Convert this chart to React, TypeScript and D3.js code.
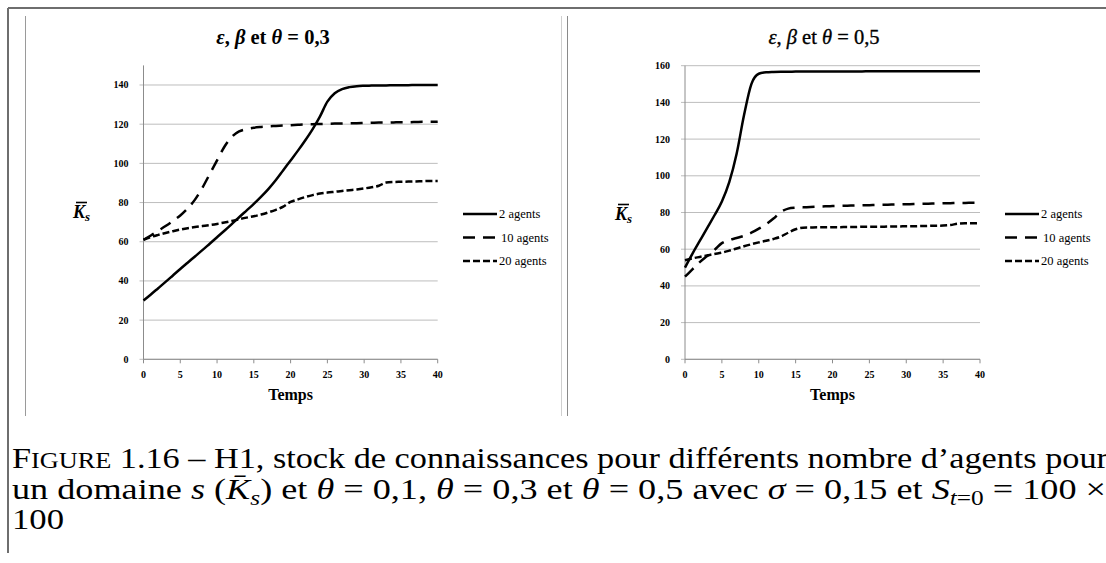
import React from 'react';
import * as d3 from 'd3';

// Time steps (x axis)
const TIME = [0, 1, 2, 3, 4, 5, 6, 7, 8, 9, 10, 11, 12, 13, 14, 15, 16, 17, 18, 19, 20,
  21, 22, 23, 24, 25, 26, 27, 28, 29, 30, 31, 32, 33, 34, 35, 36, 37, 38, 39, 40];
const X_TICKS = [0, 5, 10, 15, 20, 25, 30, 35, 40];

const SERIES_NAMES = ['2 agents', '10 agents', '20 agents'];

// θ = 0,3
const T03_AGENTS_2 = [30, 33.1, 36.3, 39.5, 42.8, 46.1, 49.3, 52.5, 55.7, 59, 62.3, 65.6, 69, 72.5, 75.9,
  79.3, 83, 87, 91.5, 96.5, 101.5, 106.5, 111.8, 117.5, 124, 131.5, 135.8, 137.9, 138.9, 139.4, 139.6,
  139.7, 139.8, 139.8, 139.9, 139.9, 139.9, 140, 140, 140, 140];
const T03_AGENTS_10 = [61, 63.2, 65.6, 68, 70.6, 73.4, 77, 81.5, 87.5, 94.5, 101.5, 108.5, 113.5, 116.3,
  117.5, 118.2, 118.6, 118.9, 119.1, 119.3, 119.5, 119.7, 119.9, 120, 120.1, 120.2, 120.3, 120.4, 120.5,
  120.5, 120.6, 120.7, 120.8, 120.8, 120.9, 121, 121, 121.1, 121.2, 121.2, 121.3];
const T03_AGENTS_20 = [61, 62.4, 63.5, 64.5, 65.4, 66.2, 66.9, 67.5, 68, 68.5, 69.1, 69.8, 70.6, 71.5,
  72.3, 73, 73.9, 75, 76.3, 77.9, 80.3, 81.6, 82.8, 83.8, 84.6, 85.1, 85.5, 85.9, 86.3, 86.7, 87.2, 87.8,
  88.6, 90.2, 90.5, 90.6, 90.7, 90.8, 90.9, 91, 91];
const T03_Y_TICKS = [0, 20, 40, 60, 80, 100, 120, 140];

// θ = 0,5
const T05_AGENTS_2 = [50, 57.5, 64.5, 71.5, 78.5, 86, 96.5, 112, 133, 150, 155.6, 156.4, 156.6, 156.7,
  156.7, 156.8, 156.8, 156.8, 156.8, 156.9, 156.9, 156.9, 156.9, 156.9, 156.9, 157, 157, 157, 157, 157,
  157, 157, 157, 157, 157, 157, 157, 157, 157, 157, 157];
const T05_AGENTS_10 = [45, 49, 53, 56.3, 59.6, 63.3, 65, 66.1, 67.3, 69, 71.2, 73.6, 76.7, 80.3, 82.1,
  82.6, 82.8, 83, 83.2, 83.4, 83.5, 83.6, 83.7, 83.8, 83.9, 84, 84.1, 84.2, 84.3, 84.4, 84.5, 84.6, 84.7,
  84.8, 84.9, 85, 85.1, 85.2, 85.2, 85.3, 85.3];
const T05_AGENTS_20 = [54, 55, 55.8, 56.6, 57.4, 58.1, 59.2, 60.4, 61.6, 62.7, 63.7, 64.6, 65.6, 66.9,
  69, 70.9, 71.7, 71.8, 71.9, 71.9, 72, 72, 72.1, 72.1, 72.2, 72.2, 72.3, 72.3, 72.4, 72.4, 72.5, 72.5,
  72.6, 72.7, 72.8, 72.9, 73.2, 73.9, 74.1, 74.1, 74.2];
const T05_Y_TICKS = [0, 20, 40, 60, 80, 100, 120, 140, 160];

const DASHES = [null, '12,8', '7,3'];
const SERIF = '"Liberation Serif", "Times New Roman", serif';

type PanelProps = {
  value: string;
  boldTitle: boolean;
  titleX: number;
  series: number[][];
  yMax: number;
  yTicks: number[];
  x0: number;
  x1: number;
  yTop: number;
  yBottom: number;
  labelX: number;
  labelY: number;
  legendX: number;
};

function Panel(p: PanelProps) {
  const x = d3.scaleLinear().domain([0, 40]).range([p.x0, p.x1]);
  const y = d3.scaleLinear().domain([0, p.yMax]).range([p.yBottom, p.yTop]);
  const line = d3
    .line<number>()
    .x((_, i) => x(TIME[i]))
    .y((d) => y(d))
    .curve(d3.curveMonotoneX);
  const legendYs = [214, 237.5, 261];
  return (
    <g>
      <text x={p.titleX} y={44} textAnchor="middle" fontFamily={SERIF} fontSize={20.5}
        fontWeight={p.boldTitle ? 'bold' : 'normal'} fill="#000"
        stroke={p.boldTitle ? 'none' : '#000'} strokeWidth={p.boldTitle ? 0 : 0.35}>
        <tspan fontStyle="italic">ε</tspan>, <tspan fontStyle="italic">β</tspan> et{' '}
        <tspan fontStyle="italic">θ</tspan> = {p.value}
      </text>
      {p.yTicks.map((t) => (
        <g key={t}>
          <line x1={p.x0 - 4} x2={p.x1} y1={y(t)} y2={y(t)} stroke="#bdbdbd" strokeWidth={1} />
          <text x={p.x0 - 15} y={y(t) + 3.5} textAnchor="end" fontFamily={SERIF} fontSize={10}
            fontWeight="bold" fill="#000">{t}</text>
        </g>
      ))}
      <line x1={p.x0} x2={p.x0} y1={p.yTop} y2={p.yBottom} stroke="#8c8c8c" strokeWidth={1} />
      <line x1={p.x0} x2={p.x1} y1={p.yBottom} y2={p.yBottom} stroke="#8c8c8c" strokeWidth={1} />
      {X_TICKS.map((t) => (
        <g key={t}>
          <line x1={x(t)} x2={x(t)} y1={p.yBottom} y2={p.yBottom + 4} stroke="#8c8c8c" strokeWidth={1} />
          <text x={x(t)} y={378} textAnchor="middle" fontFamily={SERIF} fontSize={10}
            fontWeight="bold" fill="#000">{t}</text>
        </g>
      ))}
      <text x={(p.x0 + p.x1) / 2} y={400} textAnchor="middle" fontFamily={SERIF} fontSize={16}
        fontWeight="bold" fill="#000">Temps</text>
      <g>
        <text x={p.labelX} y={p.labelY} fontFamily={SERIF} fontSize={18} fontWeight="bold"
          fontStyle="italic" fill="#000">K<tspan fontSize={13} dy={3}>s</tspan></text>
        <line x1={p.labelX + 3} x2={p.labelX + 14} y1={p.labelY - 15.5} y2={p.labelY - 15.5}
          stroke="#000" strokeWidth={1.6} />
      </g>
      {p.series.map((s, i) => (
        <path key={i} d={line(s) || ''} fill="none" stroke="#000" strokeWidth={2.5}
          strokeDasharray={DASHES[i] || undefined} />
      ))}
      {SERIES_NAMES.map((name, i) => (
        <g key={name}>
          <line x1={p.legendX} x2={p.legendX + 34} y1={legendYs[i]} y2={legendYs[i]} stroke="#000"
            strokeWidth={2.5} strokeDasharray={DASHES[i] || undefined} />
          <text x={p.legendX + 36 + (i === 1 ? 2 : 0)} y={legendYs[i] + 4} fontFamily={SERIF}
            fontSize={12.5} fill="#000">{name}</text>
        </g>
      ))}
    </g>
  );
}

export default function App() {
  return (
    <svg width={1106} height={563} viewBox="0 0 1106 563"
      style={{ position: 'absolute', left: 0, top: 0, background: '#fff' }}>
      <rect x={0} y={0} width={1106} height={563} fill="#fff" />
      {/* outer frame */}
      <line x1={8} x2={1106} y1={8} y2={8} stroke="#6e6e6e" strokeWidth={2} />
      <line x1={8} x2={8} y1={8} y2={553} stroke="#6e6e6e" strokeWidth={2} />
      {/* chart area borders */}
      <line x1={25.5} x2={25.5} y1={16} y2={416} stroke="#9a9a9a" strokeWidth={1} />
      <line x1={561.5} x2={561.5} y1={16} y2={416} stroke="#d0d0d0" strokeWidth={1} />
      <line x1={567.5} x2={567.5} y1={16} y2={416} stroke="#8a8a8a" strokeWidth={1} />

      <Panel value="0,3" boldTitle={true} titleX={273}
        series={[T03_AGENTS_2, T03_AGENTS_10, T03_AGENTS_20]} yMax={150} yTicks={T03_Y_TICKS}
        x0={143.5} x1={437.7} yTop={65.4} yBottom={359.3} labelX={73} labelY={218} legendX={463} />
      <Panel value="0,5" boldTitle={false} titleX={824}
        series={[T05_AGENTS_2, T05_AGENTS_10, T05_AGENTS_20]} yMax={160} yTicks={T05_Y_TICKS}
        x0={685} x1={980} yTop={65.7} yBottom={359.3} labelX={615} labelY={220} legendX={1005} />

      {/* caption */}
      <g fontFamily={SERIF} fontSize={30} fill="#000">
        <text x={12} y={468} textLength={1096} lengthAdjust="spacingAndGlyphs">
          F<tspan fontSize={23}>IGURE</tspan> 1.16 –  H1, stock de connaissances pour différents nombre
          d’agents pour
        </text>
        <text x={12} y={499} textLength={1094} lengthAdjust="spacingAndGlyphs">
          un domaine <tspan fontStyle="italic">s</tspan> (<tspan fontStyle="italic">K̄</tspan>
          <tspan fontStyle="italic" fontSize={21} dy={6}>s</tspan>
          <tspan dy={-6}>) et </tspan><tspan fontStyle="italic">θ</tspan> = 0,1,{' '}
          <tspan fontStyle="italic">θ</tspan> = 0,3 et <tspan fontStyle="italic">θ</tspan> = 0,5 avec{' '}
          <tspan fontStyle="italic">σ</tspan> = 0,15 et <tspan fontStyle="italic">S</tspan>
          <tspan fontStyle="italic" fontSize={21} dy={6}>t</tspan>
          <tspan fontSize={21}>=0</tspan><tspan dy={-6}> = 100 ×</tspan>
        </text>
        <text x={12} y={529} textLength={52} lengthAdjust="spacingAndGlyphs">100</text>
      </g>
    </svg>
  );
}
